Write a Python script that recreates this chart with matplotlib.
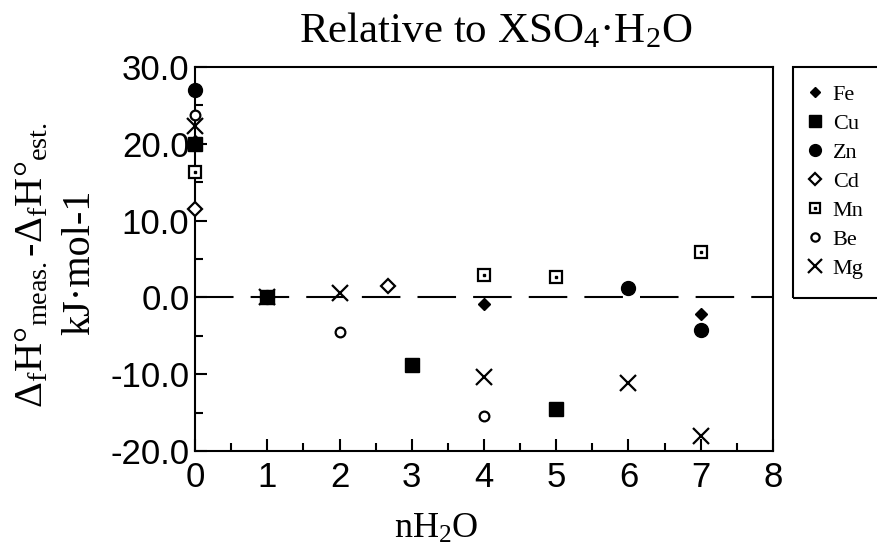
import matplotlib
matplotlib.use('Agg')
import matplotlib.pyplot as plt
from matplotlib.legend_handler import HandlerTuple
from matplotlib.patches import Rectangle

plt.rcParams['font.family'] = 'Liberation Sans'
plt.rcParams['mathtext.fontset'] = 'custom'
plt.rcParams['mathtext.rm'] = 'Liberation Serif'
plt.rcParams['mathtext.it'] = 'Liberation Serif:italic'

# 数据 (nH2O, 偏差 kJ/mol)
fe_x = [0, 1, 4, 7]
fe_y = [20.3, 0.0, -0.9, -2.1]
cu_x = [0, 1, 3, 5]
cu_y = [20.0, 0.0, -8.8, -14.5]
zn_x = [0, 1, 6, 7]
zn_y = [27.0, 0.0, 1.2, -4.2]
cd_x = [0, 8 / 3]
cd_y = [11.5, 1.5]
mn_x = [0, 4, 5, 7]
mn_y = [16.3, 2.9, 2.6, 5.9]
be_x = [0, 2, 4]
be_y = [23.8, -4.5, -15.4]
mg_x = [0, 1, 2, 4, 6, 7]
mg_y = [22.3, 0.0, 0.6, -10.4, -11.2, -18.1]

xticks = [0, 1, 2, 3, 4, 5, 6, 7, 8]
yticks = [-20, -10, 0, 10, 20, 30]

fig = plt.figure(figsize=(8.78, 5.46), dpi=100)
ax = fig.add_axes([0.2221, 0.174, 0.6583, 0.7033])

ax.axhline(0, color='k', lw=1.5, dashes=(18.5, 8.2), zorder=1)

kw = dict(ls='none', color='k', clip_on=False, zorder=3)
h_zn, = ax.plot(zn_x, zn_y, 'o', ms=10, **kw)
h_fe, = ax.plot(fe_x, fe_y, 'D', ms=6.3, **kw)
h_cu, = ax.plot(cu_x, cu_y, 's', ms=9.5, **kw)
h_cd, = ax.plot(cd_x, cd_y, 'D', ms=7.5, mfc='white', mew=1.6, **kw)
h_mn, = ax.plot(mn_x, mn_y, 's', ms=8.5, mfc='white', mew=1.6, **kw)
h_mn2, = ax.plot(mn_x, mn_y, 's', ms=2, **kw)
h_be, = ax.plot(be_x, be_y, 'o', ms=7, mfc='white', mew=1.6, **kw)
h_mg, = ax.plot(mg_x, mg_y, 'x', ms=12, mew=1.6, **kw)

ax.set_xlim(0, 8)
ax.set_ylim(-20, 30)
ax.set_xticks(xticks)
ax.set_xticks([v + 0.5 for v in xticks[:-1]], minor=True)
ax.set_yticks(yticks)
ax.set_yticks([v + 5 for v in yticks[:-1]], minor=True)
ax.set_yticklabels([f'{v:.1f}' for v in yticks])
ax.tick_params(which='both', direction='in', top=False, right=False,
               width=1.5, labelsize=25)
ax.tick_params(which='major', length=8.5)
ax.tick_params(which='minor', length=6)
ax.tick_params(axis='x', pad=7)
ax.tick_params(axis='y', pad=4)
for s in ax.spines.values():
    s.set_linewidth(1.5)

serif = 'Liberation Serif'
fig.text(0.565, 0.943, r'Relative to XSO$_4$·H$_2$O', family=serif,
         fontsize=31, ha='center', va='center')
fig.text(0.4966, 0.03, r'nH$_2$O', family=serif, fontsize=26,
         ha='center', va='center')
fig.text(0.0376, 0.515,
         r'Δ$_\mathrm{f}$H°$_\mathrm{meas.}$-Δ$_\mathrm{f}$H°$_\mathrm{est.}$',
         family=serif, fontsize=29, rotation=90, ha='center', va='center')
fig.text(0.091, 0.52, 'kJ·mol-1', family=serif, fontsize=29,
         rotation=90, ha='center', va='center')

# 图例
fig.patches.append(Rectangle((793 / 878, (546 - 298) / 546), 0.2, 231 / 546,
                             transform=fig.transFigure, fill=False,
                             ec='k', lw=1.5))
fig.legend([h_fe, h_cu, h_zn, h_cd, (h_mn, h_mn2), h_be, h_mg],
           ['Fe', 'Cu', 'Zn', 'Cd', 'Mn', 'Be', 'Mg'],
           handler_map={tuple: HandlerTuple(ndivide=1, pad=0)},
           loc='upper left', bbox_to_anchor=(806 / 878, (546 - 84) / 546),
           frameon=False, prop={'family': serif, 'size': 16},
           handlelength=0.8, handletextpad=0.4, labelspacing=0.38,
           borderpad=0, borderaxespad=0, markerscale=0.85)

fig.savefig('out.png', dpi=100)
